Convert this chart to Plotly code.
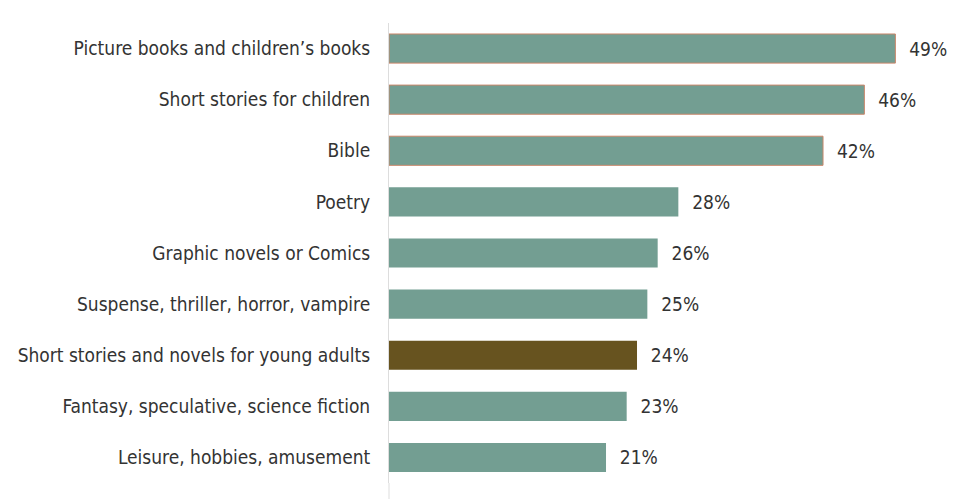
import plotly.graph_objects as go

# genres, top to bottom
categories = [
    "Picture books and children’s books",
    "Short stories for children",
    "Bible",
    "Poetry",
    "Graphic novels or Comics",
    "Suspense, thriller, horror, vampire",
    "Short stories and novels for young adults",
    "Fantasy, speculative, science fiction",
    "Leisure, hobbies, amusement",
]
values = [49, 46, 42, 28, 26, 25, 24, 23, 21]
highlight = "Short stories and novels for young adults"

TEAL = "#739e92"
BROWN = "#67531f"
colors = [BROWN if c == highlight else TEAL for c in categories]
outline = ["#c9876a" if i < 3 else "rgba(0,0,0,0)" for i in range(len(categories))]

FONT = "DejaVu Sans Condensed, Liberation Sans Narrow, sans-serif"

fig = go.Figure(go.Bar(
    x=values, y=categories, orientation="h",
    marker=dict(color=colors, line=dict(color=outline, width=1)),
    text=values, texttemplate="  %{text}%", textposition="outside",
    textfont=dict(size=19, color="#333333", family=FONT),
    cliponaxis=False,
    hoverinfo="x+y",
))

# the page body adds an 8px offset, margins account for it
fig.update_layout(
    width=958, height=499,
    margin=dict(l=381, r=20, t=15, b=24),
    paper_bgcolor="white", plot_bgcolor="white",
    bargap=0.43,
    showlegend=False,
    font=dict(family=FONT, size=19, color="#333333"),
)
fig.update_xaxes(range=[0, 53.9], visible=False, automargin=False)
fig.update_yaxes(
    autorange="reversed", showline=True, linecolor="#dddddd", linewidth=1,
    showgrid=False, ticks="", ticklabelstandoff=14, automargin=False,
    tickfont=dict(size=19, color="#333333", family=FONT),
)
# axis line continues to the bottom edge
fig.add_shape(type="line", xref="paper", yref="paper", x0=0, x1=0, y0=0, y1=-0.06,
              line=dict(color="#dddddd", width=1))

fig.write_html("out.html")
